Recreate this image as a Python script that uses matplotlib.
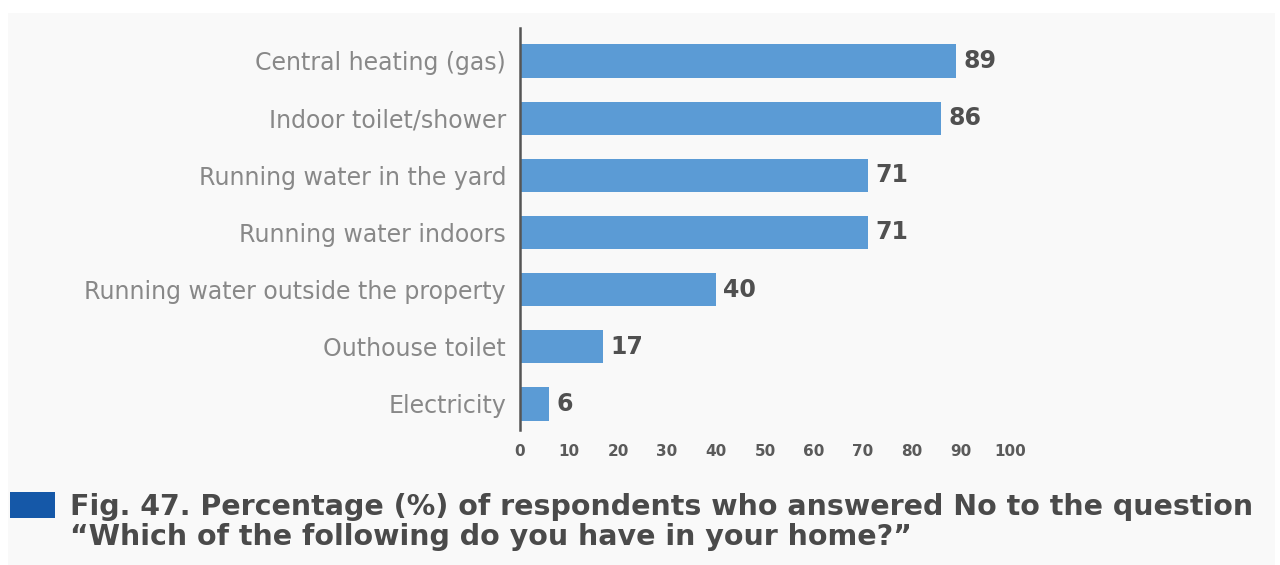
import matplotlib
matplotlib.use("Agg")
import matplotlib.pyplot as plt
from matplotlib.patches import Rectangle

categories = ["Electricity", "Outhouse toilet", "Running water outside the property",
              "Running water indoors", "Running water in the yard",
              "Indoor toilet/shower", "Central heating (gas)"]
values = [6, 17, 40, 71, 71, 86, 89]
ticks = [0, 10, 20, 30, 40, 50, 60, 70, 80, 90, 100]

fig = plt.figure(figsize=(12.8, 5.65), dpi=100)
fig.patch.set_facecolor("white")

# light grey panel behind everything
bg = fig.add_axes([8 / 1280, 0, 1267 / 1280, 552 / 565], zorder=-5)
bg.axis("off")
bg.add_patch(Rectangle((0, 0), 1, 1, transform=bg.transAxes, facecolor="#f9f9f9", edgecolor="none"))

ax = fig.add_axes([520 / 1280, 1 - 430 / 565, 490 / 1280, 402 / 565])
ax.set_facecolor("none")
ypos = list(range(len(categories)))
ax.barh(ypos, values, height=0.58, color="#5b9bd5")
for y, v in zip(ypos, values):
    ax.text(v + 1.5, y, str(v), va="center", ha="left", fontsize=17, fontweight="bold",
            color="#505050", family="DejaVu Sans")

ax.set_xlim(0, 100)
ax.set_ylim(-0.455, 6.577)
ax.set_yticks(ypos)
ax.set_yticklabels(categories, fontsize=17, color="#888888", family="DejaVu Sans")
ax.set_xticks(ticks)
ax.set_xticklabels([str(t) for t in ticks], fontsize=11, fontweight="bold", color="#5a5a5a",
                   family="DejaVu Sans")
ax.tick_params(axis="both", length=0)
ax.tick_params(axis="y", pad=10)
ax.tick_params(axis="x", pad=10)
for s in ["top", "right", "bottom"]:
    ax.spines[s].set_visible(False)
ax.spines["left"].set_color("#555555")
ax.spines["left"].set_linewidth(1.8)

fig.patches.append(Rectangle((10 / 1280, 1 - 518 / 565), 45 / 1280, 26 / 565, transform=fig.transFigure,
                             facecolor="#1558a8", edgecolor="none"))
fig.text(70 / 1280, 1 - 522 / 565,
         "Fig. 47. Percentage (%) of respondents who answered No to the question\n"
         "\u201cWhich of the following do you have in your home?\u201d",
         fontsize=20.5, fontweight="bold", color="#4a4a4a", family="DejaVu Sans", va="center",
         linespacing=1.08)

fig.savefig("out.png", dpi=100)
